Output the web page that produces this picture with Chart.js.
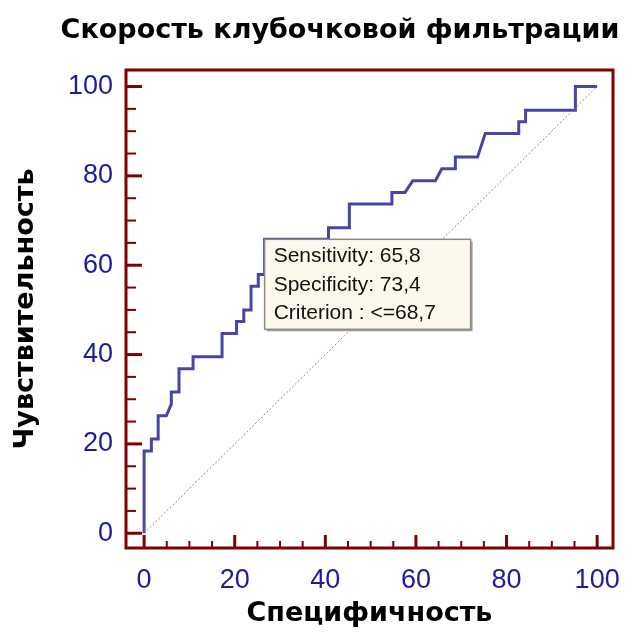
<!DOCTYPE html>
<html>
<head>
<meta charset="utf-8">
<script src="https://cdn.jsdelivr.net/npm/chart.js@4/dist/chart.umd.min.js"></script>
<style>
  html, body { margin: 0; padding: 0; background: #fff; }
  canvas { display: block; }
</style>
</head>
<body>
<canvas id="roc" width="642" height="634"></canvas>
<script>
// ROC curve: x = 100 - specificity, y = sensitivity
const rocX = [0, 0, 1.6, 1.6, 3.1, 3.1, 4.9, 6.0, 6.0, 7.7, 7.7, 10.8, 10.8, 17.2, 17.2, 20.4, 20.4, 22.0, 22.0, 23.6, 23.6, 25.2, 25.2, 26.6, 26.6, 40.7, 40.7, 45.3, 45.3, 54.7, 54.7, 57.6, 59.3, 64.3, 65.7, 68.7, 68.7, 73.6, 75.3, 82.7, 82.7, 84.2, 84.2, 95.2, 95.2, 100];
const rocY = [0, 18.4, 18.4, 21.1, 21.1, 26.3, 26.3, 28.9, 31.6, 31.6, 36.8, 36.8, 39.5, 39.5, 44.7, 44.7, 47.4, 47.4, 50.0, 50.0, 55.3, 55.3, 57.9, 57.9, 65.8, 65.8, 68.4, 68.4, 73.7, 73.7, 76.3, 76.3, 78.9, 78.9, 81.6, 81.6, 84.2, 84.2, 89.5, 89.5, 92.1, 92.1, 94.7, 94.7, 100, 100];
const diagX = [0, 100];
const diagY = [0, 100];
const tickValues = [0, 20, 40, 60, 80, 100];

const titleText = 'Скорость клубочковой фильтрации';
const xTitle = 'Специфичность';
const yTitle = 'Чувствительность';

// optimal criterion point
const bestSens = 65.8;
const bestSpec = 73.4;
const bestCriterion = '<=68,7';

const frameColor = '#800000';
const tickColor = '#1c1c9c';

function toPoints(xs, ys) {
  return xs.map((x, i) => ({ x: x, y: ys[i] }));
}

const tickFont = { family: '"Liberation Sans", Arial, sans-serif', size: 27 };
const boldFont = { family: '"DejaVu Sans", Verdana, sans-serif', size: 27, weight: 'bold' };

// frame, inward tick marks, chart title and the criterion box
const framePlugin = {
  id: 'frame',
  afterDraw(chart) {
    const ctx = chart.ctx;
    const a = chart.chartArea;
    const xs = chart.scales.x, ys = chart.scales.y;
    ctx.save();
    ctx.strokeStyle = frameColor;
    ctx.lineWidth = 3;
    ctx.strokeRect(a.left, a.top, a.right - a.left, a.bottom - a.top);
    for (let v = 0; v <= 100; v += 5) {
      const major = v % 20 === 0;
      ctx.lineWidth = major ? 3 : 2;
      const py = ys.getPixelForValue(v);
      ctx.beginPath();
      ctx.moveTo(a.left, py);
      ctx.lineTo(a.left + (major ? 16 : 10), py);
      ctx.stroke();
      const px = xs.getPixelForValue(v);
      ctx.beginPath();
      ctx.moveTo(px, a.bottom);
      ctx.lineTo(px, a.bottom - (major ? 13 : 7));
      ctx.stroke();
    }
    ctx.fillStyle = '#000';
    ctx.font = 'bold 27px "DejaVu Sans", Verdana, sans-serif';
    ctx.textAlign = 'center';
    ctx.textBaseline = 'middle';
    ctx.fillText(titleText, 340, 31);
    ctx.restore();
  },
  afterDatasetsDraw(chart) {
    const ctx = chart.ctx;
    const bx = chart.scales.x.getPixelForValue(100 - bestSpec);
    const by = chart.scales.y.getPixelForValue(bestSens);
    const w = 206, h = 90;
    ctx.save();
    ctx.fillStyle = '#a0a0a0';
    ctx.fillRect(bx + 2, by + 2, w, h);
    ctx.fillStyle = '#fdf8ec';
    ctx.fillRect(bx, by, w, h);
    ctx.strokeStyle = '#8a8a8a';
    ctx.lineWidth = 1.5;
    ctx.strokeRect(bx, by, w, h);
    ctx.fillStyle = '#111';
    ctx.font = '21px "Liberation Sans", Arial, sans-serif';
    ctx.textBaseline = 'alphabetic';
    ctx.fillText('Sensitivity: ' + String(bestSens).replace('.', ','), bx + 9, by + 23);
    ctx.fillText('Specificity: ' + String(bestSpec).replace('.', ','), bx + 9, by + 51.5);
    ctx.fillText('Criterion : ' + bestCriterion, bx + 9, by + 80);
    ctx.restore();
  }
};

new Chart(document.getElementById('roc'), {
  type: 'line',
  data: {
    datasets: [
      {
        data: toPoints(diagX, diagY),
        borderColor: '#c46a6a',
        borderWidth: 1,
        borderDash: [2, 2],
        pointRadius: 0,
        fill: false
      },
      {
        data: toPoints(rocX, rocY),
        borderColor: '#4646a8',
        borderWidth: 3,
        pointRadius: 0,
        fill: false,
        tension: 0
      }
    ]
  },
  options: {
    responsive: false,
    animation: false,
    layout: { padding: { left: 0, right: 29, top: 70, bottom: 0 } },
    plugins: {
      legend: { display: false },
      tooltip: { enabled: false },
      title: { display: false }
    },
    scales: {
      x: {
        type: 'linear',
        min: -4,
        max: 103.5,
        afterBuildTicks: (s) => { s.ticks = tickValues.map(v => ({ value: v })); },
        afterFit: (s) => { s.height = 86; },
        grid: { display: false, drawTicks: false },
        border: { display: false },
        ticks: { color: tickColor, font: tickFont, padding: 16, maxRotation: 0 },
        title: { display: true, text: xTitle, color: '#000', font: boldFont, padding: 4 }
      },
      y: {
        type: 'linear',
        min: -3.3,
        max: 103.7,
        afterBuildTicks: (s) => { s.ticks = tickValues.map(v => ({ value: v })); },
        afterFit: (s) => { s.width = 126; },
        grid: { display: false, drawTicks: false },
        border: { display: false },
        ticks: { color: tickColor, font: tickFont, padding: 13 },
        title: { display: true, text: yTitle, color: '#000', font: boldFont, padding: 10 }
      }
    }
  },
  plugins: [framePlugin]
});
</script>
</body>
</html>
